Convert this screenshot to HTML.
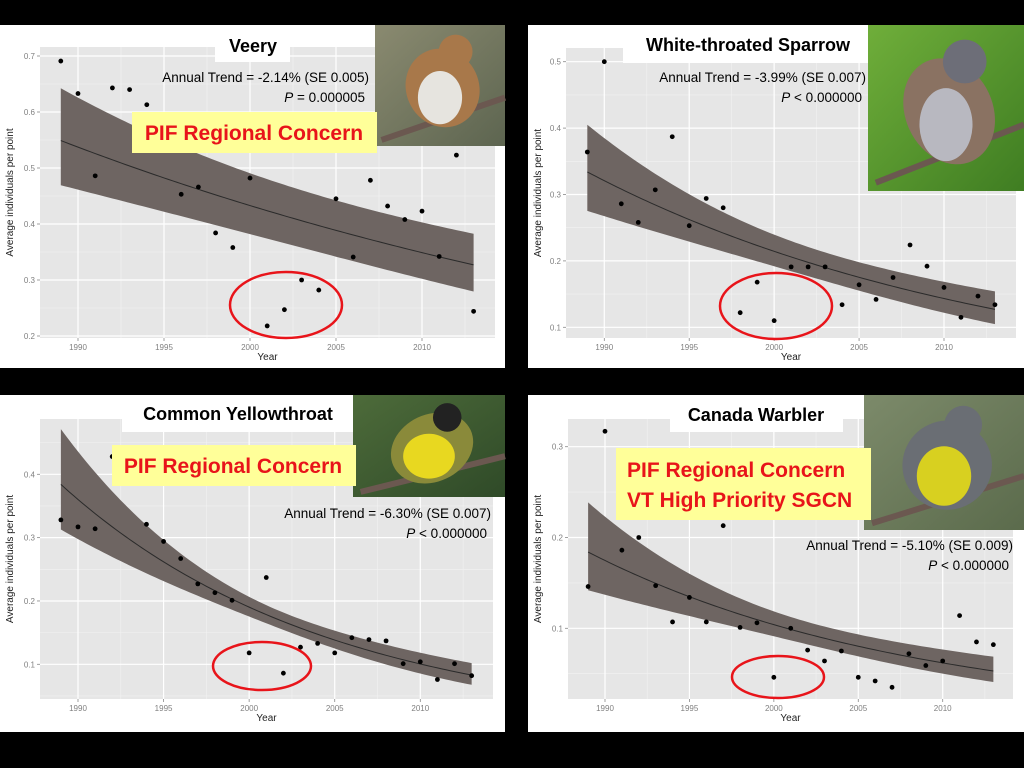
<!DOCTYPE html>
<html><head><meta charset="utf-8"><style>
html,body{margin:0;padding:0;background:#000;}
svg{display:block;font-family:"Liberation Sans",sans-serif;}
.t{font-family:"Liberation Sans",sans-serif;}
</style></head><body>
<svg id="root" width="1024" height="768" viewBox="0 0 1024 768">
<rect x="0" y="0" width="1024" height="768" fill="#000"/>
</svg>
<script>
const years = [1989,1990,1991,1992,1993,1994,1995,1996,1997,1998,1999,2000,2001,2002,2003,2004,2005,2006,2007,2008,2009,2010,2011,2012,2013];
const veeryValues = [0.691,0.633,0.486,0.643,0.640,0.613,null,0.453,0.466,0.384,0.358,0.482,0.218,0.247,0.300,0.282,0.445,0.341,0.478,0.432,0.408,0.423,0.342,0.523,0.244];
const sparrowValues = [0.364,0.500,0.286,0.258,0.307,0.387,0.253,0.294,0.280,0.122,0.168,0.110,0.191,0.191,0.191,0.134,0.164,0.142,0.175,0.224,0.192,0.160,0.115,0.147,0.134];
const yellowthroatValues = [0.328,0.317,0.314,0.428,null,0.321,0.294,0.267,0.227,0.213,0.201,0.118,0.237,0.086,0.127,0.133,0.118,0.142,0.139,0.137,0.101,0.104,0.076,0.101,0.082];
const warblerValues = [0.146,0.317,0.186,0.200,0.147,0.107,0.134,0.107,0.213,0.101,0.106,0.046,0.100,0.076,0.064,0.075,0.046,0.042,0.035,0.072,0.059,0.064,0.114,0.085,0.082];
// fit at 1989, fit at 2013, CI log half-width at ends, CI log half-width at middle
const veeryFit = [0.549,0.327,0.157,0.125];
const sparrowFit = [0.334,0.127,0.193,0.11];
const yellowthroatFit = [0.384,0.083,0.205,0.08];
const warblerFit = [0.184,0.053,0.26,0.13];
const veeryTicks = [0.2,0.3,0.4,0.5,0.6,0.7];
const sparrowTicks = [0.1,0.2,0.3,0.4,0.5];
const yellowthroatTicks = [0.1,0.2,0.3,0.4];
const warblerTicks = [0.1,0.2,0.3];
const xTicks = [1990,1995,2000,2005,2010];

const NS='http://www.w3.org/2000/svg';
const root=document.getElementById('root');
function mk(tag,attrs,parent){const e=document.createElementNS(NS,tag);for(const k in attrs)e.setAttribute(k,attrs[k]);(parent||root).appendChild(e);return e;}

function drawPanel(p, values, fit, ticks, nm){
  const g=mk('g',{});
  
  
  mk('rect',{x:p.bx,y:p.by,width:p.bw,height:p.bh,fill:'#fff'},g);
  const pa=mk('rect',{x:p.l,y:p.t,width:p.r-p.l,height:p.b-p.t,fill:'#e6e6e6'},g);
  
  
  const xs=y=>p.x0+(y-1990)*(p.x1-p.x0)/20;
  const ys=v=>p.y0+(v-p.v0)*(p.y1-p.y0)/(p.v1-p.v0);
  const step=ticks[1]-ticks[0];
  for(let i=-1;i<ticks.length;i++){const v=ticks[0]+(i+0.5)*step;const y=ys(v);if(y>p.t&&y<p.b)mk('line',{x1:p.l,x2:p.r,y1:y,y2:y,stroke:'#f2f2f2','stroke-width':0.6},g);}
  for(let yr=1987.5;yr<2016;yr+=5){const x=xs(yr);if(x>p.l&&x<p.r)mk('line',{x1:x,x2:x,y1:p.t,y2:p.b,stroke:'#f2f2f2','stroke-width':0.6},g);}
  ticks.forEach(v=>{const y=ys(v);
    mk('line',{x1:p.l,x2:p.r,y1:y,y2:y,stroke:'#fff','stroke-width':1.2},g);
    mk('line',{x1:p.l-3,x2:p.l,y1:y,y2:y,stroke:'#888','stroke-width':0.8},g);
    const t=mk('text',{x:p.l-5,y:y+3,'text-anchor':'end','font-size':8,fill:'#808080'},g);t.textContent=v.toFixed(1);
    
    });
  xTicks.forEach(yr=>{const x=xs(yr);
    mk('line',{x1:x,x2:x,y1:p.t,y2:p.b,stroke:'#fff','stroke-width':1.2},g);
    mk('line',{x1:x,x2:x,y1:p.b,y2:p.b+3,stroke:'#888','stroke-width':0.8},g);
    const t=mk('text',{x:x,y:p.b+12,'text-anchor':'middle','font-size':8,fill:'#808080'},g);t.textContent=yr;
    
    });
  const xt=mk('text',{x:(p.l+p.r)/2,y:p.b+22,'text-anchor':'middle','font-size':10,fill:'#222'},g);xt.textContent='Year';
  
  
  const cy=(p.t+p.b)/2;
  const yt=mk('text',{x:13,y:cy,'text-anchor':'middle','font-size':10,fill:'#222',transform:`rotate(-90 ${p.bx+13} ${cy}) translate(${p.bx} 0)`},g);yt.textContent='Average individuals per point';
  
  
  const r=Math.log(fit[1]/fit[0])/24;
  const f=t=>fit[0]*Math.exp(r*(t-1989));
  const hw=t=>{const u=(t-2001)/12;return Math.sqrt(fit[3]*fit[3]+(fit[2]*fit[2]-fit[3]*fit[3])*u*u);};
  let up=[],lo=[],ln=[];
  for(let t=1989;t<=2013.001;t+=0.25){up.push([xs(t),ys(f(t)*Math.exp(hw(t)))]);lo.push([xs(t),ys(f(t)*Math.exp(-hw(t)))]);ln.push([xs(t),ys(f(t))]);}
  const band=mk('path',{d:'M'+up.map(a=>a.join(',')).join('L')+'L'+lo.reverse().map(a=>a.join(',')).join('L')+'Z',fill:'#6e6562'},g);
  
  
  const fl=mk('path',{d:'M'+ln.map(a=>a.join(',')).join('L'),fill:'none',stroke:'#2a2a2a','stroke-width':1},g);
  
  
  values.forEach((v,i)=>{if(v==null)return;
    const c=mk('circle',{cx:xs(years[i]),cy:ys(v),r:2.4,fill:'#000'},g);
    
    });
  return g;
}

const panels=[
 {nm:'veery',vals:veeryValues,fit:veeryFit,ticks:veeryTicks,p:{bx:0,by:25,bw:505,bh:343,l:40,r:495,t:47,b:338,x0:78,x1:422,v0:0.7,y0:56,v1:0.2,y1:336}},
 {nm:'white-throated-sparrow',vals:sparrowValues,fit:sparrowFit,ticks:sparrowTicks,p:{bx:528,by:25,bw:496,bh:343,l:566,r:1016,t:48,b:338,x0:604.3,x1:944,v0:0.5,y0:61.7,v1:0.1,y1:327.3}},
 {nm:'common-yellowthroat',vals:yellowthroatValues,fit:yellowthroatFit,ticks:yellowthroatTicks,p:{bx:0,by:395,bw:505,bh:337,l:40,r:493,t:419,b:699,x0:78,x1:420.3,v0:0.4,y0:474.3,v1:0.1,y1:664.3}},
 {nm:'canada-warbler',vals:warblerValues,fit:warblerFit,ticks:warblerTicks,p:{bx:528,by:395,bw:496,bh:337,l:568,r:1013,t:419,b:699,x0:605,x1:942.7,v0:0.3,y0:446.7,v1:0.1,y1:628.3}}
];
panels.forEach(P=>drawPanel(P.p,P.vals,P.fit,P.ticks,P.nm));

function box(x,y,w,h,fill,name){const r=mk('rect',{x,y,width:w,height:h,fill});return r;}
function txt(x,y,s,size,anchor,opts,name){const t=mk('text',Object.assign({x,y,'font-size':size,'text-anchor':anchor,class:'t'},opts||{}));t.textContent=s;return t;}
function ptxt(x,y,rest,name){const t=mk('text',{x,y,'font-size':13.5,'text-anchor':'end',class:'t'});const s=mk('tspan',{'font-style':'italic'},t);s.textContent='P';t.appendChild(document.createTextNode(rest));}
function ell(cx,cy,rx,ry,name){const e=mk('ellipse',{cx,cy,rx,ry,fill:'none',stroke:'#e8141a','stroke-width':2.5});}
function photo(x,y,w,h,bg1,bg2,body,belly,name,extra){
  const g=mk('g',{});
  const id=name+'-grad';
  const d=mk('defs',{},g);const lg=mk('linearGradient',{id,x1:0,y1:0,x2:1,y2:1},d);
  mk('stop',{offset:'0','stop-color':bg1},lg);mk('stop',{offset:'1','stop-color':bg2},lg);
  mk('rect',{x,y,width:w,height:h,fill:`url(#${id})`},g);
  mk('line',{x1:x+w*0.05,y1:y+h*0.95,x2:x+w,y2:y+h*0.6,stroke:'#6b5850','stroke-width':6},g);
  mk('ellipse',{cx:x+w*0.52,cy:y+h*0.52,rx:w*0.28,ry:h*0.33,fill:body,transform:`rotate(-25 ${x+w*0.52} ${y+h*0.52})`},g);
  mk('ellipse',{cx:x+w*0.5,cy:y+h*0.6,rx:w*0.17,ry:h*0.22,fill:belly},g);
  mk('circle',{cx:x+w*0.62,cy:y+h*0.22,r:Math.min(w,h)*0.14,fill:extra||body},g);
}
// Veery
photo(375,25,130,121,'#8a8a70','#5d6550','#a8784a','#e6e4df','veery-photo');
box(215,25,75,37,'#fff','veery-title-box');
txt(253,52,'Veery',18,'middle',{'font-weight':'bold'},'veery-title');
txt(369,82,'Annual Trend = -2.14% (SE 0.005)',13.5,'end',{},'veery-annual-trend');
ptxt(365,102,' = 0.000005','veery-p-value');
box(132,112,245,41,'#ffff99','veery-concern-box');
txt(254,140,'PIF Regional Concern',21,'middle',{'font-weight':'bold',fill:'#e8141a'},'veery-concern-label');
ell(286,305,56,33,'veery-highlight-ellipse');
// Sparrow
photo(868,25,156,166,'#6fae3a','#3f7d22','#8a7262','#b8b8c0','sparrow-photo','#6d6e78');
box(623,25,245,38,'#fff','sparrow-title-box');
txt(748,51,'White-throated Sparrow',18,'middle',{'font-weight':'bold'},'sparrow-title');
txt(866,82,'Annual Trend = -3.99% (SE 0.007)',13.5,'end',{},'sparrow-annual-trend');
ptxt(862,102,' < 0.000000','sparrow-p-value');
ell(776,306,56,33,'sparrow-highlight-ellipse');
// Yellowthroat
photo(353,395,152,102,'#4d6b3a','#2f4a28','#8a8a3a','#e8d820','yellowthroat-photo','#222');
box(122,395,231,37,'#fff','yellowthroat-title-box');
txt(238,420,'Common Yellowthroat',18,'middle',{'font-weight':'bold'},'yellowthroat-title');
txt(491,518,'Annual Trend = -6.30% (SE 0.007)',13.5,'end',{},'yellowthroat-annual-trend');
ptxt(487,538,' < 0.000000','yellowthroat-p-value');
box(112,445,244,41,'#ffff99','yellowthroat-concern-box');
txt(233,473,'PIF Regional Concern',21,'middle',{'font-weight':'bold',fill:'#e8141a'},'yellowthroat-concern-label');
ell(262,666,49,24,'yellowthroat-highlight-ellipse');
// Warbler
photo(864,395,160,135,'#7c8a6a','#5b6b4c','#6a6e74','#d8d020','warbler-photo','#6a6e74');
box(670,395,173,37,'#fff','warbler-title-box');
txt(756,421,'Canada Warbler',18,'middle',{'font-weight':'bold'},'warbler-title');
box(616,448,255,72,'#ffff99','warbler-concern-box');
txt(627,477,'PIF Regional Concern',21,'start',{'font-weight':'bold',fill:'#e8141a'},'warbler-concern-label');
txt(627,507,'VT High Priority SGCN',21,'start',{'font-weight':'bold',fill:'#e8141a'},'warbler-sgcn-label');
txt(1013,550,'Annual Trend = -5.10% (SE 0.009)',13.5,'end',{},'warbler-annual-trend');
ptxt(1009,570,' < 0.000000','warbler-p-value');
ell(778,677,46,21,'warbler-highlight-ellipse');
</script>
</body></html>
